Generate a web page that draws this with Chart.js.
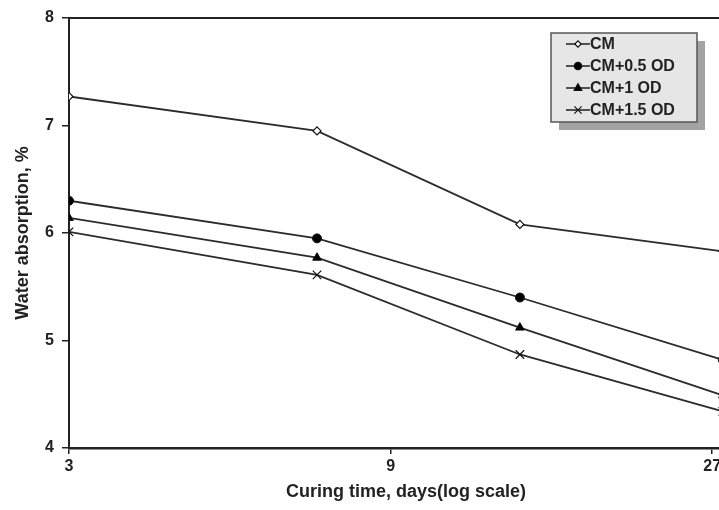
<!DOCTYPE html>
<html lang="en">
<head>
  <meta charset="UTF-8" />
  <title>Water absorption</title>
  <script src="https://cdn.jsdelivr.net/npm/chart.js"></script>
  <style>
    html, body {
      margin: 0;
      padding: 0;
      background: #fff;
      overflow: hidden;
    }
    #wrap {
      width: 760px;
      height: 510px;
    }
  </style>
</head>
<body>
  <div id="wrap">
    <canvas id="absChart" width="760" height="510"></canvas>
  </div>

  <script>
    // curing time (days) and water absorption (%)
    const days = [3, 7, 14, 28];
    const xTicks = [3, 9, 27];
    const seriesNames = ['CM', 'CM+0.5 OD', 'CM+1 OD', 'CM+1.5 OD'];
    const cm = [7.27, 6.95, 6.08, 5.83];
    const cm05 = [6.30, 5.95, 5.40, 4.82];
    const cm10 = [6.14, 5.77, 5.12, 4.49];
    const cm15 = [6.01, 5.61, 4.87, 4.34];

    const lineColor = '#2b2b2b';
    const fontFam = '"Liberation Sans", Arial, sans-serif';
    const styles = [
      { pointStyle: 'rectRot', radius: 4, fill: '#ffffff', border: 1.2 },
      { pointStyle: 'circle', radius: 4.5, fill: '#000000', border: 1 },
      { pointStyle: 'triangle', radius: 5, fill: '#000000', border: 1 },
      { pointStyle: 'crossRot', radius: 6, fill: '#000000', border: 1.2 }
    ];

    function makeSet(name, values, st) {
      return {
        label: name,
        data: days.map((d, i) => ({ x: d, y: values[i] })),
        borderColor: lineColor,
        borderWidth: 1.8,
        pointStyle: st.pointStyle,
        pointRadius: st.radius,
        pointBackgroundColor: st.fill,
        pointBorderColor: '#111',
        pointBorderWidth: st.border,
        tension: 0
      };
    }

    function drawMarker(ctx, kind, x, y, r, fill) {
      ctx.save();
      ctx.strokeStyle = '#111';
      ctx.fillStyle = fill;
      ctx.lineWidth = 1.2;
      ctx.beginPath();
      if (kind === 'circle') {
        ctx.arc(x, y, r, 0, Math.PI * 2);
        ctx.fill(); ctx.stroke();
      } else if (kind === 'triangle') {
        ctx.moveTo(x, y - r);
        ctx.lineTo(x + r * 0.9, y + r * 0.55);
        ctx.lineTo(x - r * 0.9, y + r * 0.55);
        ctx.closePath();
        ctx.fill(); ctx.stroke();
      } else if (kind === 'rectRot') {
        ctx.moveTo(x, y - r); ctx.lineTo(x + r, y);
        ctx.lineTo(x, y + r); ctx.lineTo(x - r, y);
        ctx.closePath();
        ctx.fill(); ctx.stroke();
      } else {
        const d = r * 0.7;
        ctx.moveTo(x - d, y - d); ctx.lineTo(x + d, y + d);
        ctx.moveTo(x + d, y - d); ctx.lineTo(x - d, y + d);
        ctx.stroke();
      }
      ctx.restore();
    }

    // top frame line and the boxed legend with shadow
    const framePlugin = {
      id: 'frame',
      beforeDatasetsDraw(chart) {
        const a = chart.chartArea;
        const ctx = chart.ctx;
        ctx.save();
        ctx.strokeStyle = '#222';
        ctx.lineWidth = 2;
        ctx.beginPath();
        ctx.moveTo(a.left, a.top);
        ctx.lineTo(a.right, a.top);
        ctx.lineTo(a.right, a.bottom);
        ctx.stroke();
        ctx.restore();
      },
      afterDraw(chart) {
        const ctx = chart.ctx;
        const bx = 551, by = 33, bw = 146, bh = 89;
        ctx.save();
        ctx.fillStyle = '#a3a3a3';
        ctx.fillRect(bx + 8, by + 8, bw, bh);
        ctx.fillStyle = '#e6e6e6';
        ctx.fillRect(bx, by, bw, bh);
        ctx.strokeStyle = '#555';
        ctx.lineWidth = 1.5;
        ctx.strokeRect(bx, by, bw, bh);
        ctx.font = 'bold 16px ' + fontFam;
        ctx.textBaseline = 'middle';
        chart.data.datasets.forEach((ds, i) => {
          const y = 44 + i * 22;
          ctx.strokeStyle = lineColor;
          ctx.lineWidth = 1.6;
          ctx.beginPath();
          ctx.moveTo(566, y);
          ctx.lineTo(590, y);
          ctx.stroke();
          drawMarker(ctx, styles[i].pointStyle, 578, y, styles[i].radius - 0.8, styles[i].fill);
          ctx.fillStyle = '#222';
          ctx.fillText(ds.label, 590, y + 1);
        });
        ctx.restore();
      }
    };

    const ctx = document.getElementById('absChart').getContext('2d');
    new Chart(ctx, {
      type: 'line',
      data: {
        datasets: [
          makeSet(seriesNames[0], cm, styles[0]),
          makeSet(seriesNames[1], cm05, styles[1]),
          makeSet(seriesNames[2], cm10, styles[2]),
          makeSet(seriesNames[3], cm15, styles[3])
        ]
      },
      options: {
        responsive: false,
        animation: false,
        layout: { padding: { left: 0, top: 18, right: 17, bottom: 0 } },
        plugins: {
          legend: { display: false },
          tooltip: { enabled: false }
        },
        scales: {
          x: {
            type: 'logarithmic',
            min: 3,
            max: 30,
            afterBuildTicks(scale) {
              scale.ticks = xTicks.map(v => ({ value: v }));
            },
            afterFit(scale) { scale.height = 62; },
            grid: { drawOnChartArea: false, tickLength: 6, color: '#222', lineWidth: 1.5 },
            border: { color: '#222', width: 2.5 },
            ticks: {
              autoSkip: false,
              maxRotation: 0,
              padding: 3,
              color: '#222',
              font: { family: fontFam, size: 16, weight: 'bold' },
              callback: v => String(v)
            },
            title: {
              display: true,
              text: 'Curing time, days(log scale)',
              color: '#222',
              padding: { top: 0, bottom: 7 },
              font: { family: fontFam, size: 18, weight: 'bold' }
            }
          },
          y: {
            min: 4,
            max: 8,
            afterFit(scale) { scale.width = 69; },
            grid: { drawOnChartArea: false, tickLength: 7, color: '#222', lineWidth: 1.5 },
            border: { color: '#222', width: 2 },
            ticks: {
              stepSize: 1,
              padding: 8,
              color: '#222',
              font: { family: fontFam, size: 16, weight: 'bold' }
            },
            title: {
              display: true,
              text: 'Water absorption, %',
              color: '#222',
              padding: { top: 12, bottom: 0 },
              font: { family: fontFam, size: 18, weight: 'bold' }
            }
          }
        }
      },
      plugins: [framePlugin]
    });
  </script>
</body>
</html>
